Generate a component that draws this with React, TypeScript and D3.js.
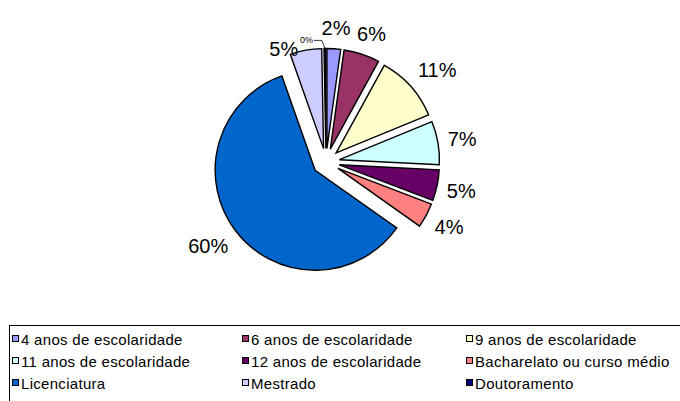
import React from "react";
import * as d3 from "d3";

const categories = [
  "4 anos de escolaridade",
  "6 anos de escolaridade",
  "9 anos de escolaridade",
  "11 anos de escolaridade",
  "12 anos de escolaridade",
  "Bacharelato ou curso médio",
  "Licenciatura",
  "Mestrado",
  "Doutoramento",
];
const values = [2.2, 5.8, 10.8, 7.0, 5.0, 4.0, 59.8, 5.1, 0.3];
const labels = ["2%", "6%", "11%", "7%", "5%", "4%", "60%", "5%", "0%"];
const colors = [
  "#9999FF",
  "#993366",
  "#FFFFCC",
  "#CCFFFF",
  "#660066",
  "#FF8080",
  "#0066CC",
  "#CCCCFF",
  "#000080",
];

const W = 680;
const H = 401;
const cx = 326;
const cy = 162;
const R = 100;
const explode = 13.6;

const clamp = (v: number) => Math.max(-1, Math.min(1, v));

export default function App() {
  const pie = d3.pie<number>().sort(null).value((d) => d)(values);
  const arc = d3.arc<d3.PieArcDatum<number>>().innerRadius(0).outerRadius(R);
  const font = "'Liberation Sans', Arial, sans-serif";

  const colX = [12, 242, 466];
  const rowY = [339, 361, 383];

  return (
    <svg
      width={W}
      height={H}
      style={{ position: "absolute", left: 0, top: 0, background: "#fff" }}
      fontFamily={font}
    >
      <rect x={0} y={0} width={W} height={H} fill="#fff" />
      {pie.map((p, i) => {
        const mid = (p.startAngle + p.endAngle) / 2;
        const dx = Math.sin(mid) * explode;
        const dy = -Math.cos(mid) * explode;
        return (
          <path
            key={i}
            d={arc(p) || ""}
            transform={`translate(${cx + dx},${cy + dy})`}
            fill={colors[i]}
            stroke="#000"
            strokeWidth={1.4}
            strokeLinejoin="miter"
          />
        );
      })}
      {pie.map((p, i) => {
        const mid = (p.startAngle + p.endAngle) / 2;
        const ux = Math.sin(mid);
        const uy = -Math.cos(mid);
        const ex = cx + ux * (R + explode);
        const ey = cy + uy * (R + explode);
        if (values[i] < 1) {
          const ty = ey - 8;
          return (
            <g key={i}>
              <path
                d={`M${ex - 11},${ty} L${ex - 3},${ty} L${ex},${ey}`}
                fill="none"
                stroke="#000"
                strokeWidth={0.8}
              />
              <text x={ex - 12} y={ty} fontSize={9} textAnchor="end" dominantBaseline="central">
                {labels[i]}
              </text>
            </g>
          );
        }
        const w = labels[i].length * 11;
        const h = 15;
        const D = 127;
        let x = cx + ux * D + (clamp(ux * 1.6) * w) / 2;
        let y = cy + uy * D + (clamp(uy * 1.6) * h) / 2;
        if (i === 7) {
          // moved aside to clear the tiny neighbour's label
          x = ex - 22;
          y = ey - 1;
        }
        return (
          <text
            key={i}
            x={x}
            y={y}
            fontSize={20}
            textAnchor="middle"
            dominantBaseline="central"
            fill="#000"
          >
            {labels[i]}
          </text>
        );
      })}
      <rect x={9.5} y={325.5} width={700} height={100} fill="none" stroke="#000" strokeWidth={1} />
      {categories.map((c, i) => {
        const col = i % 3;
        const row = Math.floor(i / 3);
        const x = colX[col];
        const y = rowY[row];
        return (
          <g key={c}>
            <rect x={x + 0.5} y={y - 3.5} width={6} height={6} fill={colors[i]} stroke="#000" strokeWidth={1} />
            <text x={x + 9} y={y} fontSize={15} dominantBaseline="central" letterSpacing={0.3}>
              {c}
            </text>
          </g>
        );
      })}
    </svg>
  );
}
